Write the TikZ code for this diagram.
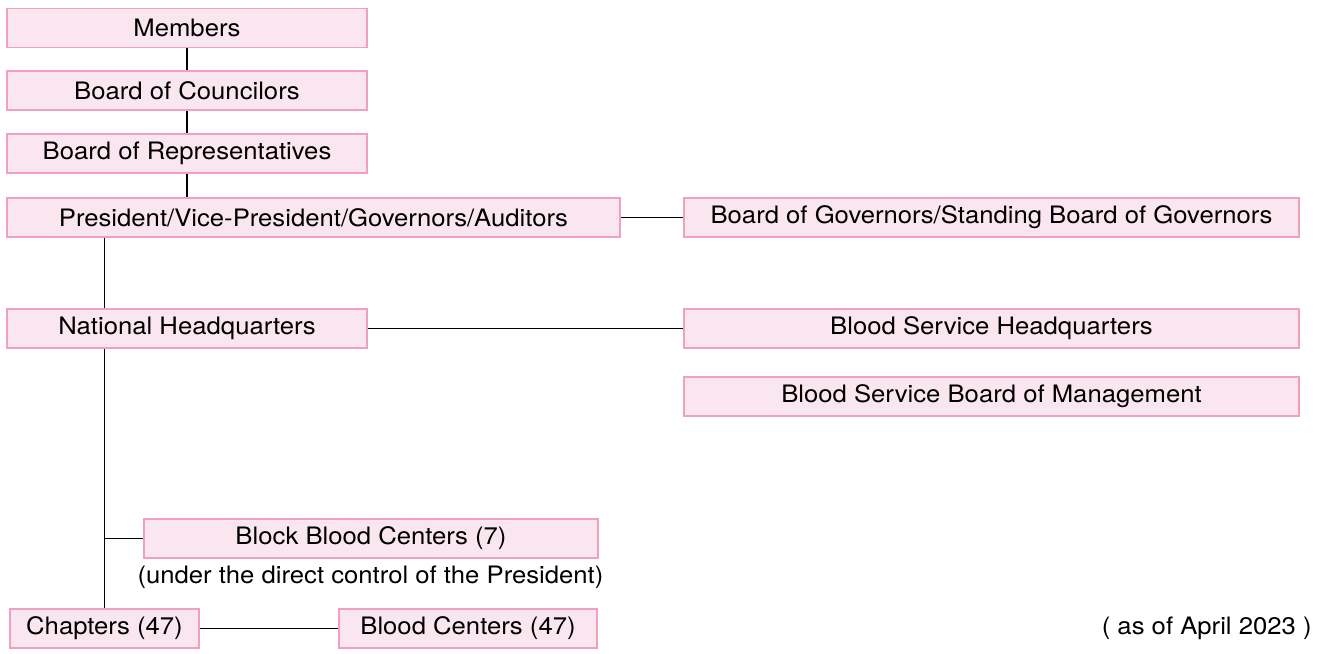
\documentclass[tikz,border=0pt]{standalone}
\usepackage{fontspec}
\setmainfont[FakeStretch=1.07]{TeX Gyre Heros}
\definecolor{boxfill}{RGB}{250,230,238}
\definecolor{boxline}{RGB}{240,160,195}

\begin{document}
\begin{tikzpicture}[x=0.5pt,y=-0.5pt,
  unit/.style={draw=boxline,fill=boxfill,line width=0.8pt,inner sep=0pt,minimum height=19.5pt,font=\fontsize{12}{14}\selectfont},
  link/.style={line width=0.9pt}]
\useasboundingbox (0,0) rectangle (1320,653);

\node[unit,minimum width=180pt] (members) at (187,28) {Members};
\node[unit,minimum width=180pt] (councilors) at (187,90.5) {Board of Councilors};
\node[unit,minimum width=180pt] (representatives) at (187,153.5) {Board of Representatives};
\node[unit,minimum width=306.5pt] (president) at (313.5,217.5) {President/Vice-President/Governors/Auditors};
\node[unit,minimum width=307.5pt] (governors) at (991.5,217.5) {Board of Governors/Standing Board of Governors};
\node[unit,minimum width=180pt] (nhq) at (187,328.5) {National Headquarters};
\node[unit,minimum width=307.5pt] (bshq) at (991.5,328.5) {Blood Service Headquarters};
\node[unit,minimum width=307.5pt] (bsbm) at (991.5,396.5) {Blood Service Board of Management};
\node[unit,minimum width=227pt] (block) at (371,538.5) {Block Blood Centers (7)};
\node[font=\fontsize{12}{14}\selectfont,inner sep=0pt] (note) at (370.5,577) {(under the direct control of the President)};
\node[unit,minimum width=94.5pt] (chapters) at (104.5,628.5) {Chapters (47)};
\node[unit,minimum width=129pt] (centers) at (468,628.5) {Blood Centers (47)};
\node[font=\fontsize{12}{14}\selectfont,inner sep=0pt,anchor=east] (date) at (1312,628) {( as of April 2023 )};

\draw[link] (members) -- (councilors);
\draw[link] (councilors) -- (representatives);
\draw[link] (representatives.south) -- (representatives.south |- president.north);
\draw[link] (president) -- (governors);
\draw[link] (president.south -| chapters) -- (nhq.north -| chapters);
\draw[link] (nhq.south -| chapters) -- (chapters);
\draw[link] (nhq) -- (bshq);
\draw[link] (chapters |- block) -- (block);
\draw[link] (chapters) -- (centers);
\end{tikzpicture}
\end{document}
